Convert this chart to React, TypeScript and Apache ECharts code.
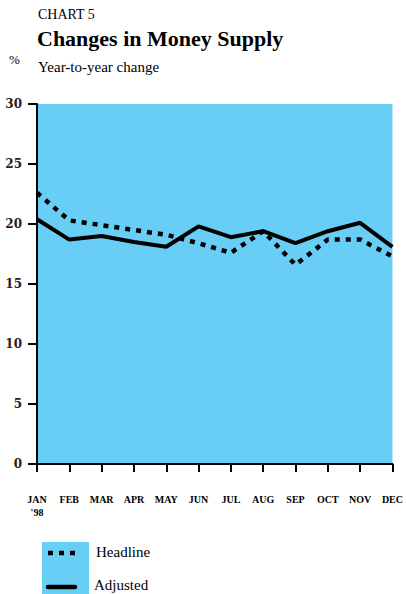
import React, { useEffect, useRef } from "react";
import * as echarts from "echarts";

// Month labels along the time axis
const months = ["JAN\n'98", "FEB", "MAR", "APR", "MAY", "JUN", "JUL", "AUG", "SEP", "OCT", "NOV", "DEC"];

// Year-to-year change, per cent
const headline = [22.6, 20.3, 19.9, 19.5, 19.1, 18.4, 17.6, 19.4, 16.6, 18.7, 18.7, 17.3];
const adjusted = [20.4, 18.7, 19.0, 18.5, 18.1, 19.8, 18.9, 19.4, 18.4, 19.4, 20.1, 18.1];

const yTicks = { min: 0, max: 30, interval: 5 };

const BLUE = "#69CEF5";
const SERIF = "'Liberation Serif', 'Times New Roman', serif";
const NUM_SERIF = "'DejaVu Serif', serif";

export default function App() {
  const ref = useRef<HTMLDivElement>(null);

  useEffect(() => {
    document.body.style.margin = "0";
    if (!ref.current) return;
    const chart = echarts.init(ref.current, null, { renderer: "svg" });

    chart.setOption({
      animation: false,
      backgroundColor: "#ffffff",
      grid: {
        left: 37,
        right: 9,
        top: 104,
        bottom: 130,
        show: true,
        backgroundColor: BLUE,
        borderWidth: 0,
      },
      xAxis: {
        type: "category",
        data: months,
        boundaryGap: false,
        axisLine: { lineStyle: { color: "#000", width: 2 } },
        axisTick: { show: true, length: 8, lineStyle: { color: "#000", width: 2 }, alignWithLabel: true },
        axisLabel: {
          interval: 0,
          margin: 29,
          fontFamily: SERIF,
          fontWeight: "bold",
          fontSize: 10,
          lineHeight: 13,
          color: "#000",
          align: "center",
        },
        splitLine: { show: false },
      },
      yAxis: {
        type: "value",
        min: yTicks.min,
        max: yTicks.max,
        interval: yTicks.interval,
        axisLine: { show: true, lineStyle: { color: "#000", width: 2 } },
        axisTick: { show: true, length: 9, lineStyle: { color: "#000", width: 2 } },
        axisLabel: {
          margin: 15,
          fontFamily: NUM_SERIF,
          fontWeight: "bold",
          fontSize: 12,
          color: "#222",
        },
        splitLine: { show: false },
      },
      series: [
        {
          name: "Headline",
          type: "line",
          data: headline,
          symbol: "none",
          lineStyle: { color: "#000", width: 4.5, type: [5, 6], cap: "butt" },
          z: 3,
        },
        {
          name: "Adjusted",
          type: "line",
          data: adjusted,
          symbol: "none",
          lineStyle: { color: "#000", width: 4 },
          z: 4,
        },
      ],
      graphic: [
        {
          type: "text",
          left: 38,
          top: 7,
          style: { text: "CHART 5", font: `14px ${SERIF}`, fill: "#000" },
        },
        {
          type: "text",
          left: 37,
          top: 27,
          style: { text: "Changes in Money Supply", font: `bold 22px ${SERIF}`, fill: "#000" },
        },
        {
          type: "text",
          left: 9,
          top: 53,
          style: { text: "%", font: `13px ${SERIF}`, fill: "#000" },
        },
        {
          type: "text",
          left: 38,
          top: 59,
          style: { text: "Year-to-year change", font: `15px ${SERIF}`, fill: "#000" },
        },
        {
          type: "rect",
          shape: { x: 42, y: 542, width: 47, height: 52 },
          style: { fill: BLUE },
        },
        {
          type: "line",
          shape: { x1: 48, y1: 553, x2: 76, y2: 553 },
          style: { stroke: "#000", lineWidth: 4.5, lineDash: [5, 6] },
        },
        {
          type: "line",
          shape: { x1: 48, y1: 587, x2: 75, y2: 587 },
          style: { stroke: "#000", lineWidth: 4.5, lineCap: "round" },
        },
        {
          type: "text",
          left: 96,
          top: 544,
          style: { text: "Headline", font: `15px ${SERIF}`, fill: "#000" },
        },
        {
          type: "text",
          left: 94,
          top: 577,
          style: { text: "Adjusted", font: `15px ${SERIF}`, fill: "#000" },
        },
      ],
    });

    return () => chart.dispose();
  }, []);

  return <div ref={ref} style={{ width: 406, height: 594 }} />;
}
